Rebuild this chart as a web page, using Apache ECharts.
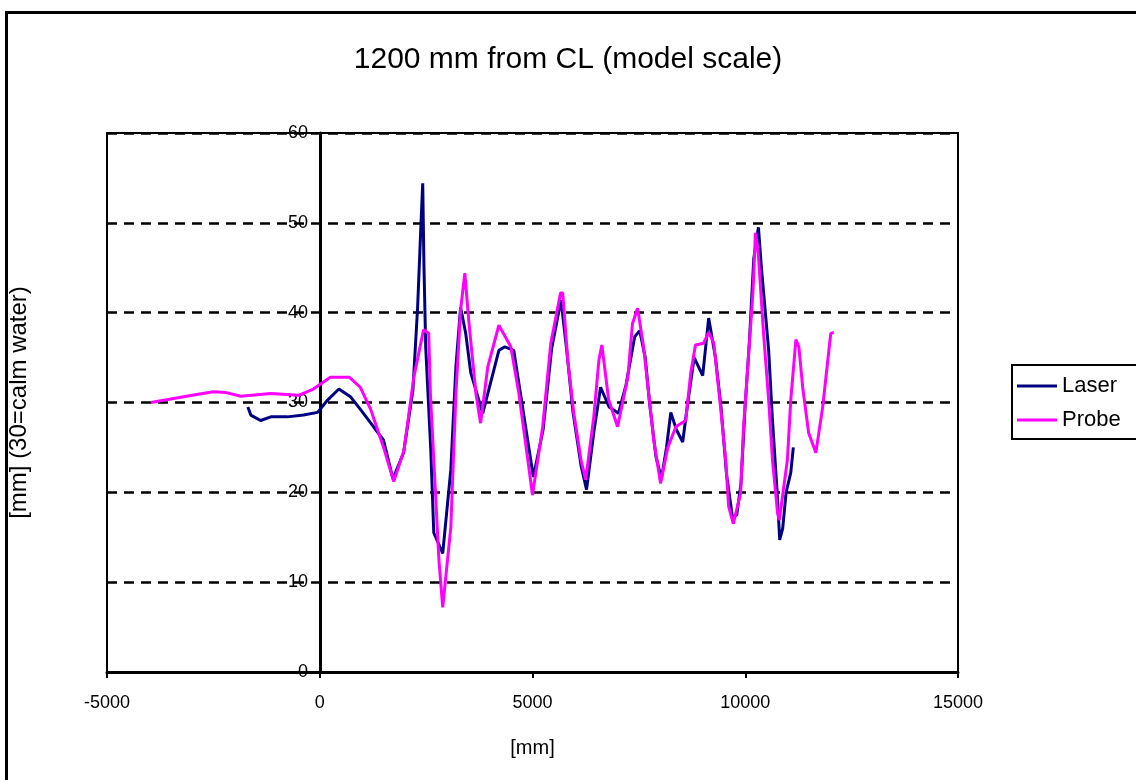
<!DOCTYPE html>
<html>
<head>
<meta charset="utf-8">
<script src="https://cdn.jsdelivr.net/npm/echarts@6/dist/echarts.min.js"></script>
<style>
  html, body { margin: 0; padding: 0; background: #fff; }
  #chart { width: 1136px; height: 780px; }
</style>
</head>
<body>
<div id="chart"></div>
<script>
const titleText = '1200 mm from CL (model scale)';
const xTicks = [-5000, 0, 5000, 10000, 15000];
const yTicks = [0, 10, 20, 30, 40, 50, 60];

// [x mm, water level mm]
const laserData = [
  [-1690, 29.5], [-1620, 28.6], [-1390, 28.0], [-1150, 28.4], [-760, 28.4], [-380, 28.6],
  [-50, 28.9], [190, 30.3], [450, 31.5], [730, 30.6], [960, 29.2], [1200, 27.7],
  [1500, 25.8], [1720, 21.5], [1970, 24.4], [2190, 31.4], [2300, 40.6], [2380, 50.0],
  [2420, 54.4], [2450, 45.0], [2490, 36.2], [2610, 24.7], [2680, 15.5], [2890, 13.2],
  [3080, 22.5], [3200, 34.0], [3310, 40.6], [3430, 37.7], [3550, 33.3], [3830, 28.8],
  [4210, 35.8], [4350, 36.2], [4560, 35.8], [4750, 30.0], [5020, 21.7], [5250, 27.0],
  [5450, 36.0], [5670, 41.4], [5800, 36.0], [5950, 29.0], [6140, 23.0], [6270, 20.3],
  [6450, 27.0], [6600, 31.7], [6800, 29.5], [7020, 28.8], [7200, 32.0], [7400, 37.3],
  [7520, 38.0], [7650, 35.0], [7750, 30.0], [7900, 24.0], [8030, 21.5], [8150, 25.0],
  [8250, 28.9], [8380, 27.0], [8530, 25.6], [8650, 30.0], [8800, 35.0], [9000, 33.0],
  [9140, 39.4], [9300, 35.0], [9430, 29.5], [9560, 22.0], [9700, 17.2], [9800, 17.5],
  [9900, 21.0], [9990, 29.0], [10100, 37.0], [10200, 46.0], [10310, 49.5], [10380, 45.0],
  [10550, 35.8], [10640, 28.0], [10750, 20.0], [10810, 14.7], [10880, 16.0], [10960, 20.0],
  [11070, 22.2], [11130, 25.0],
];

const probeData = [
  [-3970, 30.0], [-3600, 30.3], [-3000, 30.8], [-2500, 31.2], [-2200, 31.1], [-1850, 30.7],
  [-1150, 31.0], [-500, 30.8], [-150, 31.5], [250, 32.8], [700, 32.8], [950, 31.7],
  [1200, 29.2], [1500, 25.0], [1740, 21.2], [1980, 24.7], [2210, 32.8], [2440, 38.1],
  [2560, 37.7], [2600, 31.0], [2720, 19.9], [2800, 12.5], [2890, 7.2], [3080, 16.1],
  [3200, 31.0], [3310, 40.3], [3410, 44.4], [3500, 39.2], [3670, 31.0], [3780, 27.7],
  [3950, 34.0], [4210, 38.6], [4490, 36.2], [4680, 31.0], [4890, 23.6], [5000, 19.7],
  [5240, 27.3], [5430, 36.6], [5660, 42.2], [5710, 42.2], [5830, 34.7], [5970, 28.8],
  [6140, 23.6], [6250, 21.4], [6440, 28.4], [6560, 34.7], [6630, 36.4], [6790, 30.3],
  [7000, 27.3], [7240, 32.8], [7350, 38.8], [7470, 40.5], [7610, 36.2], [7730, 31.0],
  [7850, 25.8], [8010, 21.0], [8180, 25.0], [8370, 27.3], [8600, 28.0], [8720, 33.3],
  [8830, 36.4], [9020, 36.6], [9140, 37.8], [9260, 36.6], [9420, 29.5], [9540, 23.6],
  [9610, 18.4], [9720, 16.5], [9890, 19.9], [9960, 27.3], [10060, 34.0], [10180, 42.2],
  [10240, 48.9], [10300, 47.0], [10430, 37.7], [10550, 30.3], [10640, 23.6], [10760, 17.7],
  [10800, 16.9], [10990, 23.6], [11070, 30.3], [11190, 37.0], [11260, 36.2], [11350, 31.7],
  [11490, 26.6], [11660, 24.4], [11820, 29.5], [11940, 34.7], [12010, 37.7], [12080, 37.8],
];

const font = "'Liberation Sans', Arial, sans-serif";
const chart = echarts.init(document.getElementById('chart'));

chart.setOption({
  backgroundColor: '#fff',
  animation: false,
  title: {
    text: titleText,
    left: 'center',
    top: 40,
    textStyle: { fontFamily: font, fontSize: 30, fontWeight: 'normal', color: '#000' },
  },
  graphic: [
    {
      type: 'rect',
      left: 4,
      top: 10,
      shape: { width: 1200, height: 900 },
      style: { fill: 'none', stroke: '#000', lineWidth: 3 },
      silent: true,
    },
  ],
  legend: {
    orient: 'vertical',
    left: 1012,
    top: 365,
    padding: [10, 30, 8, 5],
    itemWidth: 40,
    itemHeight: 3,
    itemGap: 12,
    itemTextGap: 6,
    borderColor: '#000',
    borderWidth: 2,
    textStyle: { fontFamily: font, fontSize: 22, color: '#000' },
    data: [
      { name: 'Laser', icon: 'rect' },
      { name: 'Probe', icon: 'rect' },
    ],
  },
  grid: {
    left: 107,
    right: 178,
    top: 133,
    bottom: 108,
    containLabel: false,
    outerBoundsMode: 'none',
    show: true,
    backgroundColor: '#fff',
    borderColor: '#000',
    borderWidth: 2,
  },
  xAxis: {
    type: 'value',
    min: xTicks[0],
    max: xTicks[xTicks.length - 1],
    interval: 5000,
    name: '[mm]',
    nameLocation: 'middle',
    nameGap: 66,
    nameTextStyle: { fontFamily: font, fontSize: 20, color: '#000' },
    axisLine: { onZero: true, lineStyle: { color: '#000', width: 3 } },
    axisTick: { show: true, length: 6, lineStyle: { color: '#000', width: 2 } },
    axisLabel: { margin: 22, fontFamily: font, fontSize: 18, color: '#000', formatter: (v) => String(v) },
    splitLine: { show: false },
  },
  yAxis: {
    type: 'value',
    min: yTicks[0],
    max: yTicks[yTicks.length - 1],
    interval: 10,
    // the value axis crosses at x = 0, a quarter of the way across the plot
    offset: -213,
    name: '[mm] (30=calm water)',
    nameLocation: 'middle',
    nameGap: 289,
    nameRotate: 90,
    nameTextStyle: { fontFamily: font, fontSize: 24, color: '#000' },
    axisLine: { onZero: false, lineStyle: { color: '#000', width: 3 } },
    axisTick: { show: false },
    axisLabel: { margin: 12, fontFamily: font, fontSize: 18, color: '#000', formatter: (v) => String(v) },
    splitLine: { show: true, lineStyle: { color: '#000', width: 2.5, type: [10, 7] } },
  },
  series: [
    {
      name: 'Laser',
      type: 'line',
      data: laserData,
      symbol: 'none',
      lineStyle: { color: '#000080', width: 3 },
      itemStyle: { color: '#000080' },
    },
    {
      name: 'Probe',
      type: 'line',
      data: probeData,
      symbol: 'none',
      lineStyle: { color: '#ff00ff', width: 3 },
      itemStyle: { color: '#ff00ff' },
    },
  ],
});
</script>
</body>
</html>
